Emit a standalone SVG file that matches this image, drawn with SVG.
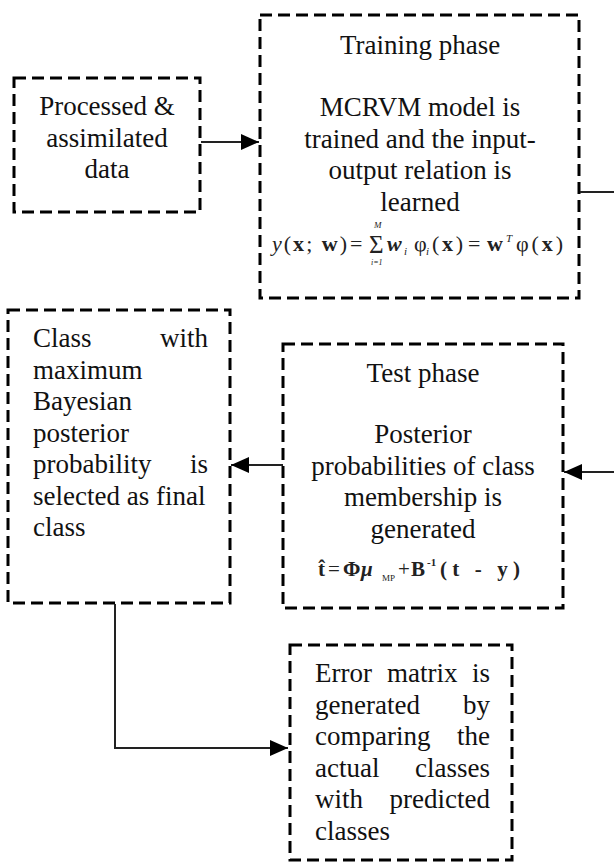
<svg xmlns="http://www.w3.org/2000/svg" width="614" height="863" viewBox="0 0 614 863">
<style>
.box{fill:none;stroke:#000;stroke-width:3;stroke-dasharray:12 6}
text{font-family:'Liberation Serif','Times New Roman','DejaVu Serif',serif;fill:#111}
.t{font-size:27px}
.c{text-anchor:middle}
.e{text-anchor:end}
.f{font-size:22px;fill:#222}
.g{font-size:21px;fill:#222}
.b{font-weight:bold}
.i{font-style:italic}
.s8{font-size:8px}
.s9{font-size:9px}
.s11{font-size:11px}
.s24{font-size:25px}
.con{fill:none;stroke:#222;stroke-width:2}
</style>
<defs>
<marker id="ah" markerUnits="userSpaceOnUse" markerWidth="18" markerHeight="16" refX="18" refY="8" orient="auto">
<path d="M0,0 L18,8 L0,16 z" fill="#000"/>
</marker>
</defs>
<rect width="614" height="863" fill="#fff"/>

<g id="processed">
<rect class="box" x="14" y="78" width="186" height="134"/>
<text class="t c" x="107" y="115">Processed &amp;</text>
<text class="t c" x="107" y="147">assimilated</text>
<text class="t c" x="107" y="178">data</text>
</g>

<g id="training">
<rect class="box" x="260" y="15" width="319" height="283"/>
<text class="t c" x="420" y="54">Training phase</text>
<text class="t c" x="420" y="116">MCRVM model is</text>
<text class="t c" x="420" y="148">trained and the input-</text>
<text class="t c" x="420" y="179">output relation is</text>
<text class="t c" x="420" y="211">learned</text>
<text class="f" x="272" y="251" textLength="75" lengthAdjust="spacing"><tspan class="i">y</tspan>(<tspan class="b">x</tspan>; <tspan class="b">w</tspan>)</text>
<text class="f" x="350" y="251">=</text>
<text class="f s24" x="369" y="253">Σ</text>
<text class="f i s9" x="374" y="228">M</text>
<text class="f i s8" x="371" y="265">i=1</text>
<text class="f b i" x="387" y="251">w</text>
<text class="f i s11" x="404" y="255">i</text>
<text class="f" x="414" y="251">φ</text>
<text class="f i s11" x="426" y="255">i</text>
<text class="f" x="432" y="251" textLength="31" lengthAdjust="spacing">(<tspan class="b">x</tspan>)</text>
<text class="f" x="468" y="251">=</text>
<text class="f b" x="487" y="251">w</text>
<text class="f i s11" x="506" y="242">T</text>
<text class="f" x="516" y="251" textLength="47" lengthAdjust="spacing">φ(<tspan class="b">x</tspan>)</text>
</g>

<g id="class">
<rect class="box" x="8" y="310" width="222" height="293"/>
<text class="t" x="33" y="347">Class</text>
<text class="t e" x="208" y="347">with</text>
<text class="t" x="33" y="378.5">maximum</text>
<text class="t" x="33" y="410">Bayesian</text>
<text class="t" x="33" y="441.5">posterior</text>
<text class="t" x="33" y="473">probability</text>
<text class="t e" x="208" y="473">is</text>
<text class="t" x="33" y="504.5">selected as final</text>
<text class="t" x="33" y="536">class</text>
</g>

<g id="test">
<rect class="box" x="283" y="344" width="280" height="264"/>
<text class="t c" x="423" y="382">Test phase</text>
<text class="t c" x="423" y="443">Posterior</text>
<text class="t c" x="423" y="474.5">probabilities of class</text>
<text class="t c" x="423" y="506">membership is</text>
<text class="t c" x="423" y="537.5">generated</text>
<text class="g b" x="318" y="576">t̂</text>
<text class="g" x="328" y="576">=</text>
<text class="g b" x="343" y="576">Φ</text>
<text class="g b i" x="361" y="576">μ</text>
<text class="g s9" x="382" y="581">MP</text>
<text class="g" x="398" y="576">+</text>
<text class="g b" x="411" y="576">B</text>
<text class="g b s11" x="427" y="566">-1</text>
<text class="g b" x="440" y="576" textLength="80" lengthAdjust="spacing">(t - y)</text>
</g>

<g id="error">
<rect class="box" x="290" y="645" width="222" height="215"/>
<text class="t" x="315" y="682">Error</text>
<text class="t" x="387" y="682">matrix</text>
<text class="t e" x="490" y="682">is</text>
<text class="t" x="315" y="713.5">generated</text>
<text class="t e" x="490" y="713.5">by</text>
<text class="t" x="315" y="745">comparing</text>
<text class="t e" x="490" y="745">the</text>
<text class="t" x="315" y="776.5">actual</text>
<text class="t e" x="490" y="776.5">classes</text>
<text class="t" x="315" y="808">with</text>
<text class="t e" x="490" y="808">predicted</text>
<text class="t" x="315" y="839.5">classes</text>
</g>

<g id="connectors">
<path class="con" d="M201,142 H259" marker-end="url(#ah)"/>
<path class="con" d="M580,192 H614"/>
<path class="con" d="M614,472 H564" marker-end="url(#ah)"/>
<path class="con" d="M283,465 H231" marker-end="url(#ah)"/>
<path class="con" d="M115,604 V748 H288" marker-end="url(#ah)"/>
</g>
</svg>
